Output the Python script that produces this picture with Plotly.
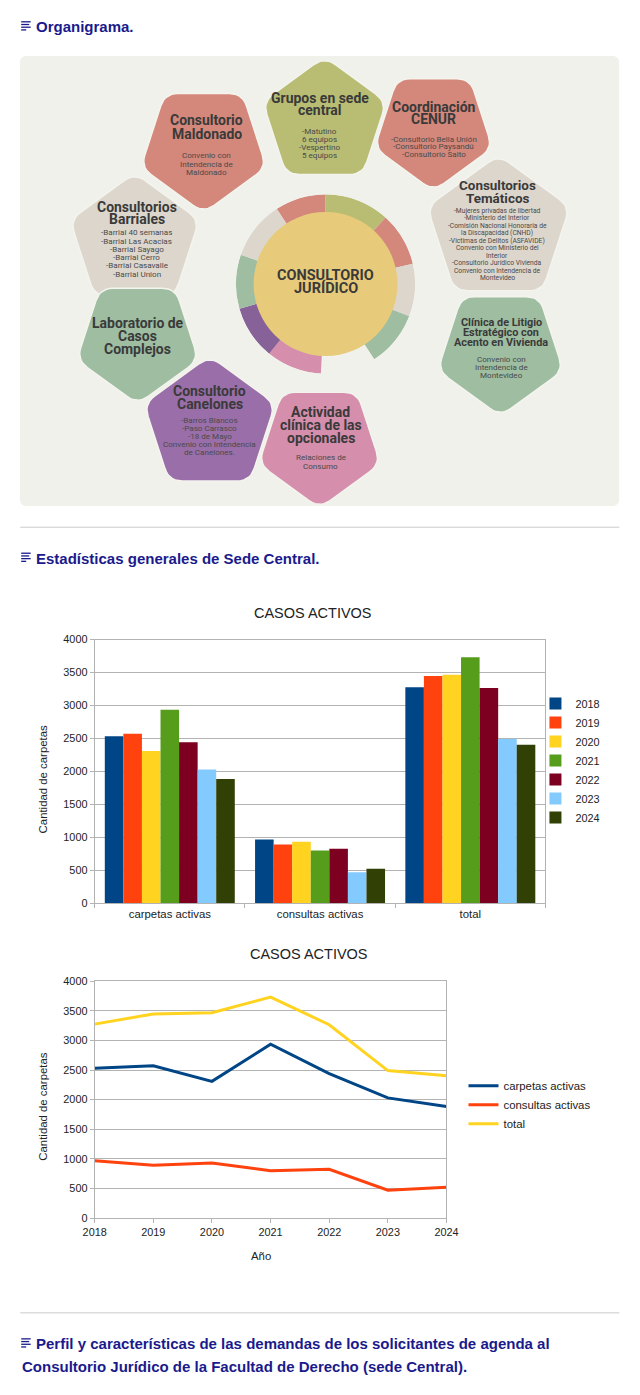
import numpy as np
import plotly.graph_objects as go

# figure size; the photographed page maps figure pixels to picture pixels as
#   pic_x = SX*fig_x + OX,  pic_y = SY*fig_y + OY   (measured on a previous render)
FW, FH = 624, 1379
SX, OX = 0.962, 19.3
SY, OY = 0.9905, 14.2
FS = 1.035  # font compensation for the horizontal squeeze

# ---------------- data ----------------
years = ["2018", "2019", "2020", "2021", "2022", "2023", "2024"]
year_nums = [2018, 2019, 2020, 2021, 2022, 2023, 2024]
categories = ["carpetas activas", "consultas activas", "total"]
carpetas_activas = [2532, 2572, 2309, 2937, 2441, 2030, 1884]
consultas_activas = [967, 891, 932, 800, 825, 471, 522]
total = [3276, 3448, 3468, 3732, 3266, 2491, 2405]

chart_title = "CASOS ACTIVOS"
y_title = "Cantidad de carpetas"
x_title = "Año"
heading_1 = "Organigrama."
heading_2 = "Estadísticas generales de Sede Central."
heading_3a = "Perfil y características de las demandas de los solicitantes de agenda al"
heading_3b = "Consultorio Jurídico de la Facultad de Derecho (sede Central)."

center_title = ["CONSULTORIO", "JURÍDICO"]
node_titles = [
    ["Consultorios", "Barriales"],
    ["Consultorio", "Maldonado"],
    ["Grupos en sede", "central"],
    ["Coordinación", "CENUR"],
    ["Consultorios", "Temáticos"],
    ["Clínica de Litigio", "Estratégico con", "Acento en Vivienda"],
    ["Laboratorio de", "Casos", "Complejos"],
    ["Consultorio", "Canelones"],
    ["Actividad", "clínica de las", "opcionales"],
]
node_subtitles = [
    ["-Barrial 40 semanas", "-Barrial Las Acacias", "-Barrial Sayago", "-Barrial Cerro",
     "-Barrial Casavalle", "-Barrial Union"],
    ["Convenio con", "Intendencia de", "Maldonado"],
    ["-Matutino", "6 equipos", "-Vespertino", "5 equipos"],
    ["-Consultorio Bella Unión", "-Consultorio Paysandú", "-Consultorio Salto"],
    ["-Mujeres privadas de libertad", "-Ministerio del Interior",
     "-Comisión Nacional Honoraria de", "la Discapacidad (CNHD)",
     "-Victimas de Delitos (ASFAVIDE)", "Convenio con Ministerio del", "Interior",
     "-Consultorio Jurídico Vivienda", "Convenio con Intendencia de", "Montevideo"],
    ["Convenio con", "Intendencia de", "Montevideo"],
    [],
    ["-Barros Blancos", "-Paso Carrasco", "-18 de Mayo", "Convenio con Intendencia",
     "de Canelones."],
    ["Relaciones de", "Consumo"],
]
# ring segments of the central wheel (compass degrees)
ring_start = [327, 0, 42, 77, 111, 183, 219, 254, 289]
ring_end = [360, 42, 77, 111, 147, 219, 254, 289, 327]

# ---------------- styles / layout ----------------
year_colors = ["#004586", "#ff420e", "#ffd320", "#579d1c", "#7e0021", "#83caff", "#314004"]
line_colors = ["#004586", "#ff420e", "#ffd320"]
SALMON, OLIVE, GRAY, SAGE = "#d4887b", "#b8bd73", "#ddd6cd", "#9ebda1"
PURPLE, PURPLE_D, PINK, YELLOW = "#9a6ea8", "#876299", "#d58eac", "#e7cb7a"
ring_colors = [SALMON, OLIVE, SALMON, GRAY, SAGE, PINK, PURPLE_D, SAGE, GRAY]
node_colors = [GRAY, SALMON, OLIVE, SALMON, GRAY, SAGE, SAGE, PURPLE, PINK]
# shape geometry (picture pixels): center x, center y, radius, pointing up?
node_geom = [
    (134, 241, 68, True),
    (203, 147, 66, False),
    (324, 122, 65, True),
    (433, 129, 62, False),
    (498, 230, 75, True),
    (500, 350, 66, False),
    (137, 340, 64, False),
    (209, 425, 69, True),
    (319, 444, 64, False),
]
# text layout: x, title y, title dy, title size, sub y, sub dy, sub size
node_text = [
    (136, 207, 12.3, 13.5, 233, 8.2, 7.8),
    (206, 120, 14, 13.5, 156, 8.3, 7.8),
    (319, 98, 12.3, 13.5, 132, 7.8, 7.8),
    (433, 106.7, 12.7, 13.5, 139.3, 7.5, 7.8),
    (497, 186, 12.3, 13, 211, 7.45, 6.5),
    (501, 322, 10, 10.5, 359, 8.2, 7.8),
    (137, 323.3, 12.8, 13.5, 0, 0, 7.8),
    (209, 391, 13, 13.5, 420, 8.2, 7.8),
    (320, 411.7, 13.3, 13.5, 457.7, 8.3, 7.8),
]
BOX = (19, 56, 619, 506)
CENTER = (325, 284)
RING_R, CIRCLE_R = 91, 72

HEAD_COLOR = "#1a1a8c"
HFONT = "Liberation Sans, Arial, sans-serif"
OFONT = "Roboto, Noto Sans, sans-serif"
TXT = "#222222"
GRID = "#b3b3b3"


def fx(x):
    return (x - OX) / SX


def fy(y):
    return (y - OY) / SY


def px(x):
    return min(1.0, max(0.0, fx(x) / FW))


def py(y):
    return min(1.0, max(0.0, 1 - fy(y) / FH))


def f(s):
    return round(s * FS, 2)


def rounded_pentagon(cx, cy, R, up, d=13, n=8):
    base = -90 if up else 90
    ang = np.radians(base + 72 * np.arange(5))
    vx, vy = cx + R * np.cos(ang), cy + R * np.sin(ang)
    xs, ys = [], []
    s = np.linspace(0, 1, n)
    for i in range(5):
        p = np.array([vx[i - 1], vy[i - 1]])
        q = np.array([vx[i], vy[i]])
        nn = np.array([vx[(i + 1) % 5], vy[(i + 1) % 5]])
        a = q + (p - q) * d / np.hypot(*(p - q))
        b = q + (nn - q) * d / np.hypot(*(nn - q))
        pts = ((1 - s) ** 2)[:, None] * a + (2 * (1 - s) * s)[:, None] * q + (s ** 2)[:, None] * b
        xs += list(pts[:, 0]); ys += list(pts[:, 1])
    xs.append(xs[0]); ys.append(ys[0])
    return xs, ys


fig = go.Figure()

# ---------------- organigram ----------------
for (cx, cy, R, up), col in zip(node_geom, node_colors):
    xs, ys = rounded_pentagon(cx, cy, R, up)
    fig.add_trace(go.Scatter(x=xs, y=ys, mode="lines", fill="toself", fillcolor=col,
                             line=dict(color="#f4f4ee", width=1.5), hoverinfo="skip",
                             showlegend=False, xaxis="x3", yaxis="y3"))

theta = [(s + e) / 2 for s, e in zip(ring_start, ring_end)]
width = [e - s for s, e in zip(ring_start, ring_end)]
fig.add_trace(go.Barpolar(r=[1] * len(theta), theta=theta, width=width,
                          marker=dict(color=ring_colors, line=dict(width=0)),
                          hoverinfo="skip", showlegend=False, subplot="polar"))

annotations = []
for (tx, ty, tdy, tsz, sy, sdy, ssz), titles, subs in zip(node_text, node_titles, node_subtitles):
    for k, t in enumerate(titles):
        annotations.append(dict(x=tx, y=ty + k * tdy, xref="x3", yref="y3", text=f"<b>{t}</b>",
                                showarrow=False, font=dict(family=OFONT, size=f(tsz), color="#3a3a3a"),
                                xanchor="center", yanchor="middle"))
    for k, t in enumerate(subs):
        annotations.append(dict(x=tx, y=sy + k * sdy, xref="x3", yref="y3", text=t,
                                showarrow=False, font=dict(family=OFONT, size=f(ssz), color="#4a4a4a"),
                                xanchor="center", yanchor="middle"))
for k, t in enumerate(center_title):
    annotations.append(dict(x=CENTER[0], y=275 + k * 13.3, xref="x3", yref="y3", text=f"<b>{t}</b>",
                            showarrow=False, font=dict(family=OFONT, size=f(14), color="#3a3a3a"),
                            xanchor="center", yanchor="middle"))

# ---------------- bar chart ----------------
for i, yr in enumerate(years):
    fig.add_trace(go.Bar(x=categories, y=[carpetas_activas[i], consultas_activas[i], total[i]],
                         name=yr, marker=dict(color=year_colors[i], line=dict(width=0)),
                         xaxis="x", yaxis="y", legend="legend"))

# ---------------- line chart ----------------
for name, vals, col in zip(["carpetas activas", "consultas activas", "total"],
                           [carpetas_activas, consultas_activas, total], line_colors):
    fig.add_trace(go.Scatter(x=year_nums, y=vals, mode="lines", name=name,
                             line=dict(color=col, width=3), xaxis="x2", yaxis="y2",
                             legend="legend2"))

# ---------------- texts ----------------
def ann(x, y, text, size, color=TXT, family=HFONT, xanchor="center", angle=0):
    annotations.append(dict(x=px(x), y=py(y), xref="paper", yref="paper", text=text,
                            showarrow=False, font=dict(family=family, size=f(size), color=color),
                            xanchor=xanchor, yanchor="middle", textangle=angle))

ann(33.5, 27, f"<b>{heading_1}</b>", 14.5, HEAD_COLOR, xanchor="left")
ann(33.5, 558, f"<b>{heading_2}</b>", 14.5, HEAD_COLOR, xanchor="left")
ann(33.5, 1343, f"<b>{heading_3a}</b>", 14.5, HEAD_COLOR, xanchor="left")
ann(19.4, 1366, f"<b>{heading_3b}</b>", 14.5, HEAD_COLOR, xanchor="left")
ann(312.8, 613, chart_title, 14)
ann(308.5, 953, chart_title, 14)
ann(42.3, 779, y_title, 11, angle=-90)
ann(42.3, 1106, y_title, 11, angle=-90)
ann(260, 1255, x_title, 11)

shapes = []
# organigram background
x0, y0, x1, y1 = BOX
rr = 8
shapes.append(dict(type="path", xref="x3", yref="y3", layer="below", line=dict(width=0),
                   fillcolor="#f1f1eb",
                   path=(f"M{x0+rr},{y0} L{x1-rr},{y0} Q{x1},{y0} {x1},{y0+rr} L{x1},{y1-rr} "
                         f"Q{x1},{y1} {x1-rr},{y1} L{x0+rr},{y1} Q{x0},{y1} {x0},{y1-rr} "
                         f"L{x0},{y0+rr} Q{x0},{y0} {x0+rr},{y0} Z")))
shapes.append(dict(type="circle", xref="x3", yref="y3", layer="above",
                   x0=CENTER[0] - CIRCLE_R, x1=CENTER[0] + CIRCLE_R,
                   y0=CENTER[1] - CIRCLE_R, y1=CENTER[1] + CIRCLE_R,
                   fillcolor=YELLOW, line=dict(width=0)))
# horizontal rules
for yy in (527, 1312):
    shapes.append(dict(type="line", xref="paper", yref="paper", x0=px(19.5), x1=px(619),
                       y0=py(yy), y1=py(yy), line=dict(color="#cccccc", width=1)))
# heading icons
for yc in (26, 557, 1342):
    for k, ln in enumerate([9.5, 8, 9.5, 5]):
        yl = yc - 4 + k * 2.7
        shapes.append(dict(type="line", xref="paper", yref="paper", x0=px(20.5), x1=px(20.5 + ln),
                           y0=py(yl), y1=py(yl), line=dict(color=HEAD_COLOR, width=1.3)))

axis_font = dict(family=HFONT, size=f(10.5), color=TXT)
common = dict(showline=True, linecolor=GRID, linewidth=1, mirror=True, ticks="outside",
              tickcolor=GRID, ticklen=4, tickfont=axis_font, fixedrange=True)
yax = dict(range=[0, 4000], dtick=500, tick0=0, showgrid=True, gridcolor=GRID, gridwidth=1,
           zeroline=False, **common)

# polar ring: circle of radius RING_R (average of both squeezes) around CENTER
rf = RING_R / ((SX + SY) / 2)
cfx, cfy = fx(CENTER[0]), fy(CENTER[1])

# organigram axes: data units are picture pixels
x3d = [px(BOX[0]), px(BOX[2])]
y3d = [py(BOX[3]), py(BOX[1])]
x3r = [OX + SX * x3d[0] * FW, OX + SX * x3d[1] * FW]
y3r = [OY + SY * (1 - y3d[0]) * FH, OY + SY * (1 - y3d[1]) * FH]

fig.update_layout(
    width=FW, height=FH, margin=dict(l=0, r=0, t=0, b=0),
    paper_bgcolor="white", plot_bgcolor="rgba(0,0,0,0)",
    barmode="group", bargap=0.135, bargroupgap=0,
    xaxis=dict(domain=[px(94), px(545)], anchor="y", type="category", tickson="boundaries",
               showgrid=False, **{**common, "tickfont": dict(family=HFONT, size=f(11), color=TXT)}),
    yaxis=dict(domain=[py(902.7), py(639.3)], anchor="x", **yax),
    xaxis2=dict(domain=[px(94), px(446)], anchor="y2", range=[2018, 2024], dtick=1, tick0=2018,
                tickformat="d", showgrid=False, zeroline=False, **common),
    yaxis2=dict(domain=[py(1217.3), py(980.7)], anchor="x2", **yax),
    xaxis3=dict(domain=x3d, anchor="y3", range=x3r, visible=False, fixedrange=True),
    yaxis3=dict(domain=y3d, anchor="x3", range=y3r, visible=False, fixedrange=True),
    polar=dict(domain=dict(x=[(cfx - rf) / FW, (cfx + rf) / FW],
                           y=[1 - (cfy + rf) / FH, 1 - (cfy - rf) / FH]),
               bgcolor="rgba(0,0,0,0)", hole=0,
               radialaxis=dict(visible=False, range=[0, 1]),
               angularaxis=dict(visible=False, rotation=90, direction="clockwise")),
    legend=dict(x=px(535), y=py(760), xanchor="left", yanchor="middle",
                font=dict(family=HFONT, size=f(10.5), color=TXT), bgcolor="rgba(0,0,0,0)"),
    legend2=dict(x=px(463), y=py(1104), xanchor="left", yanchor="middle",
                 font=dict(family=HFONT, size=f(11), color=TXT), bgcolor="rgba(0,0,0,0)"),
    annotations=annotations,
    shapes=shapes,
    showlegend=True,
)

fig.write_html("out.html")
